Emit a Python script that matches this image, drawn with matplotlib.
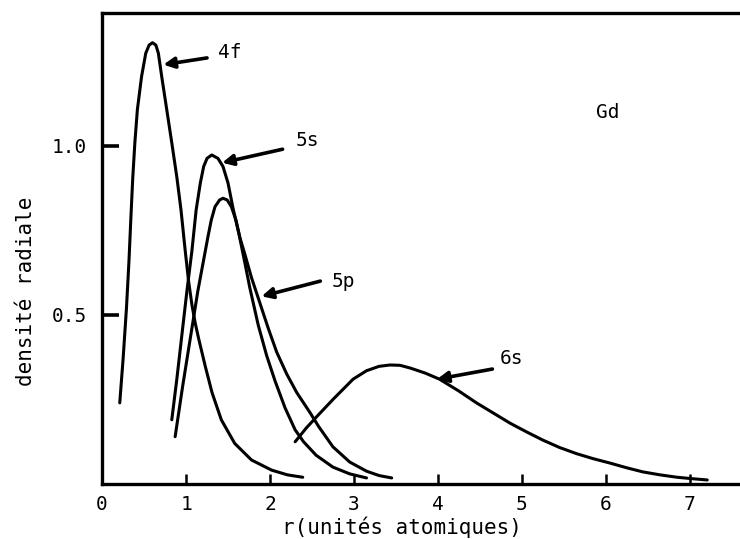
import matplotlib
matplotlib.use("Agg")
import matplotlib.pyplot as plt

plt.rcParams['font.family'] = ['DejaVu Sans Mono']

# Radial density curves for Gd orbitals: r (atomic units) and density
r_4f = [0.21, 0.25, 0.29, 0.32, 0.345, 0.365, 0.39, 0.42, 0.47, 0.52, 0.56,
        0.60, 0.64, 0.67, 0.71, 0.77, 0.83, 0.89, 0.94, 0.99, 1.03, 1.07, 1.11,
        1.15, 1.23, 1.31, 1.42, 1.58, 1.78, 2.02, 2.21, 2.39]
d_4f = [0.24, 0.37, 0.52, 0.66, 0.80, 0.905, 1.009, 1.107, 1.205, 1.274, 1.298,
        1.305, 1.298, 1.274, 1.205, 1.107, 1.009, 0.908, 0.81, 0.69, 0.60, 0.53, 0.475,
        0.43, 0.347, 0.27, 0.19, 0.12, 0.071, 0.041, 0.027, 0.02]

r_5s = [0.83, 0.89, 0.95, 1.01, 1.07, 1.12, 1.17, 1.21, 1.25, 1.306, 1.38, 1.44,
        1.50, 1.56, 1.63, 1.70, 1.76, 1.86, 1.96, 2.06, 2.18, 2.30, 2.40, 2.55,
        2.75, 2.95, 3.15]
d_5s = [0.19, 0.31, 0.44, 0.57, 0.69, 0.81, 0.89, 0.939, 0.963, 0.973, 0.963, 0.939,
        0.89, 0.815, 0.74, 0.655, 0.58, 0.47, 0.38, 0.305, 0.225, 0.16, 0.125, 0.085,
        0.05, 0.03, 0.018]

r_5p = [0.87, 0.96, 1.05, 1.14, 1.23, 1.26, 1.30, 1.345, 1.40, 1.44, 1.49, 1.54,
        1.595, 1.64, 1.70, 1.78, 1.88, 1.98, 2.08, 2.20, 2.32, 2.48, 2.58, 2.75,
        2.95, 3.15, 3.30, 3.45]
d_5p = [0.14, 0.29, 0.43, 0.57, 0.69, 0.73, 0.78, 0.82, 0.84, 0.845, 0.84, 0.82,
        0.78, 0.73, 0.68, 0.61, 0.535, 0.46, 0.39, 0.325, 0.27, 0.21, 0.17, 0.11,
        0.065, 0.038, 0.025, 0.018]

r_6s = [2.30, 2.43, 2.56, 2.75, 2.87, 2.99, 3.15, 3.30, 3.43, 3.55, 3.67, 3.85,
        4.02, 4.25, 4.46, 4.66, 4.86, 5.05, 5.25, 5.45, 5.65, 5.85, 6.05, 6.25,
        6.44, 6.65, 6.85, 7.02, 7.21]
d_6s = [0.125, 0.165, 0.20, 0.25, 0.28, 0.31, 0.335, 0.348, 0.352, 0.351, 0.343, 0.328,
        0.31, 0.275, 0.24, 0.21, 0.18, 0.155, 0.13, 0.108, 0.09, 0.075, 0.062, 0.048,
        0.036, 0.027, 0.02, 0.016, 0.012]

orbital_names = ['4f', '5s', '5p', '6s']
x_ticks = [0, 1, 2, 3, 4, 5, 6, 7]
y_ticks = [0.5, 1.0]
y_ticklabels = ['0.5', '1.0']
element = 'Gd'

# Arrow tips/tails and label anchors, in data coordinates
arrow_tips = [(0.73, 1.24), (1.43, 0.95), (1.90, 0.555), (3.99, 0.31)]
arrow_tails = [(1.25, 1.26), (2.15, 0.99), (2.60, 0.60), (4.65, 0.34)]
label_pos = [(1.38, 1.275), (2.30, 1.015), (2.74, 0.60), (4.74, 0.37)]

fig = plt.figure(figsize=(7.4, 5.39), dpi=100)
ax = fig.add_axes([0.138, 0.102, 0.862, 0.874])

for r, d in [(r_4f, d_4f), (r_5s, d_5s), (r_5p, d_5p), (r_6s, d_6s)]:
    ax.plot(r, d, color='black', lw=2.2, solid_capstyle='round',
            solid_joinstyle='round')

for name, tip, tail, pos in zip(orbital_names, arrow_tips, arrow_tails, label_pos):
    ax.annotate('', xy=tip, xytext=tail,
                arrowprops=dict(arrowstyle='-|>', color='black', lw=2.6,
                                mutation_scale=16, shrinkA=0, shrinkB=0))
    ax.text(pos[0], pos[1], name, fontsize=14, ha='left', va='center')

ax.text(6.02, 1.10, element, fontsize=14, ha='center', va='center')

ax.set_xlim(0, 7.6)
ax.set_ylim(0, 1.393)

ax.set_xticks(x_ticks)
ax.set_xticklabels([str(t) for t in x_ticks])
ax.set_yticks(y_ticks)
ax.set_yticklabels(y_ticklabels)
ax.tick_params(axis='x', direction='in', length=7, width=1.8, pad=8, labelsize=14)
ax.tick_params(axis='y', direction='in', length=12, width=2.6, pad=11, labelsize=14)

for side in ['left', 'top', 'bottom']:
    ax.spines[side].set_linewidth(2.4)
ax.spines['right'].set_visible(False)

ax.set_xlabel('r(unités atomiques)', fontsize=15)
ax.xaxis.set_label_coords(0.47, -0.091)
ax.xaxis.label.set_verticalalignment('center')
ax.set_ylabel('densité radiale', fontsize=15)
ax.yaxis.set_label_coords(-0.12, 0.41)
ax.yaxis.label.set_verticalalignment('center')

fig.savefig('out.png', dpi=100)
